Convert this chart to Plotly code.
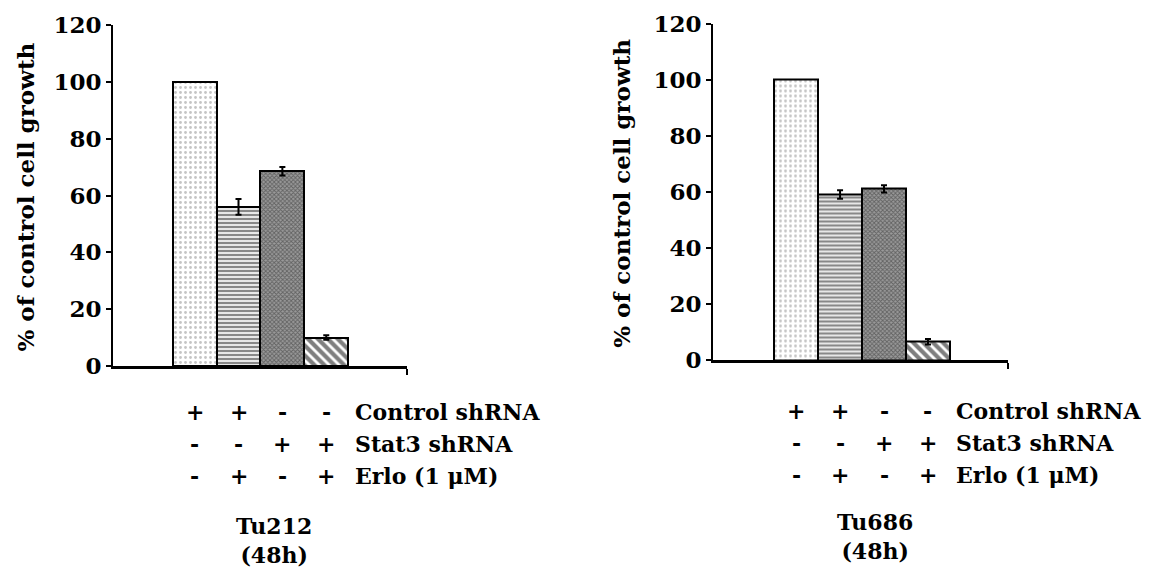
import plotly.graph_objects as go

# ---- data ----
conditions = ["Control shRNA", "Control shRNA + Erlo", "Stat3 shRNA", "Stat3 shRNA + Erlo"]
tu212_values = [100, 56, 68.5, 10]
tu212_errors = [0, 2.8, 1.5, 0.8]
tu686_values = [100, 59, 61, 6.5]
tu686_errors = [0, 1.5, 1.3, 1.0]
row_labels = ["Control shRNA", "Stat3 shRNA", "Erlo (1 μM)"]
row_signs = [["+", "+", "-", "-"],
             ["-", "-", "+", "+"],
             ["-", "+", "-", "+"]]
cell_lines = ["Tu212<br>(48h)", "Tu686<br>(48h)"]
y_ticks = [0, 20, 40, 60, 80, 100, 120]
y_title = "% of control cell growth"

W, H = 1173, 573
OFF_X, OFF_Y = 8, 8  # page body margin compensation
FONT = "DejaVu Serif"


def px_x(x):
    return (x - OFF_X) / W


def px_y(y):
    return 1 - (y - OFF_Y) / H


patterns = [
    dict(shape=".", fgcolor="#8a8a8a", bgcolor="white", size=5, solidity=0.25),
    dict(shape="-", fgcolor="#111111", bgcolor="white", size=4, solidity=0.6),
    dict(shape="x", fgcolor="#2a2a2a", bgcolor="#9a9a9a", size=3, solidity=0.5),
    dict(shape="\\", fgcolor="#000000", bgcolor="white", size=7, solidity=0.6),
]

fig = go.Figure()

panels = [
    dict(vals=tu212_values, errs=tu212_errors, xa="x", ya="y",
         xdom=(113, 407), ydom=(25, 366), xr=(-1.86, 4.84),
         rows=[412, 444, 476], name_y=540, title_x=25, ax=1),
    dict(vals=tu686_values, errs=tu686_errors, xa="x2", ya="y2",
         xdom=(713, 1008), ydom=(23.5, 360), xr=(-1.89, 4.82),
         rows=[411, 443, 475], name_y=536, title_x=622, ax=2),
]

idx = list(range(len(conditions)))

for p in panels:
    for i in idx:
        fig.add_trace(go.Bar(
            x=[idx[i]], y=[p["vals"][i]],
            width=1.0,
            marker=dict(color="white", line=dict(color="black", width=2),
                        pattern=patterns[i]),
            error_y=dict(type="data", array=[p["errs"][i]], visible=p["errs"][i] > 0,
                         color="black", thickness=2, width=3),
            xaxis=p["xa"], yaxis=p["ya"], showlegend=False,
            name=conditions[i],
        ))

layout = dict(
    width=W, height=H, autosize=False,
    margin=dict(l=0, r=0, t=0, b=0, pad=0, autoexpand=False),
    paper_bgcolor="white", plot_bgcolor="white",
    bargap=0, barmode="overlay",
    font=dict(family=FONT, size=21, color="black", weight="bold"),
    annotations=[],
)

for p in panels:
    n = p["ax"]
    xkey = "xaxis" if n == 1 else "xaxis2"
    ykey = "yaxis" if n == 1 else "yaxis2"
    layout[xkey] = dict(
        domain=[px_x(p["xdom"][0]), px_x(p["xdom"][1])],
        range=list(p["xr"]),
        showline=True, linecolor="black", linewidth=2.5,
        tickvals=[p["xr"][1]], ticks="outside", ticklen=6, tickwidth=2,
        tickcolor="black", showticklabels=False, showgrid=False, zeroline=False,
        automargin=False,
        anchor="y" if n == 1 else "y2",
    )
    layout[ykey] = dict(
        domain=[px_y(p["ydom"][1]), px_y(p["ydom"][0])],
        range=[0, 120], tickvals=y_ticks,
        showline=True, linecolor="black", linewidth=2,
        ticks="outside", ticklen=5, tickwidth=2, tickcolor="black",
        tickfont=dict(family=FONT, size=23, color="black", weight="bold"),
        ticklabeloverflow="allow",
        showgrid=False, zeroline=False, automargin=False,
        anchor="x" if n == 1 else "x2",
    )
    xref = "x" if n == 1 else "x2"
    # axis title
    layout["annotations"].append(dict(
        text=y_title, textangle=-90, xref="paper", yref="paper",
        x=px_x(p["title_x"]), y=px_y((p["ydom"][0] + p["ydom"][1]) / 2 + 2),
        showarrow=False, xanchor="center", yanchor="middle",
        font=dict(family=FONT, size=23, color="black", weight="bold"),
    ))
    for r, (lab, signs) in enumerate(zip(row_labels, row_signs)):
        for i in idx:
            layout["annotations"].append(dict(
                text=signs[i], xref=xref, yref="paper", x=idx[i],
                y=px_y(p["rows"][r]), showarrow=False,
                xanchor="center", yanchor="middle",
                font=dict(family=FONT, size=22, color="black", weight="bold"),
            ))
        layout["annotations"].append(dict(
            text=lab, xref=xref, yref="paper", x=3.6,
            y=px_y(p["rows"][r]), showarrow=False,
            xanchor="left", yanchor="middle",
            font=dict(family=FONT, size=22, color="black", weight="bold"),
        ))
    layout["annotations"].append(dict(
        text=cell_lines[n - 1], xref=xref, yref="paper", x=1.8,
        y=px_y(p["name_y"]), showarrow=False,
        xanchor="center", yanchor="middle",
        font=dict(family=FONT, size=22, color="black", weight="bold"),
    ))

fig.update_layout(**layout)
fig.write_html("out.html")
